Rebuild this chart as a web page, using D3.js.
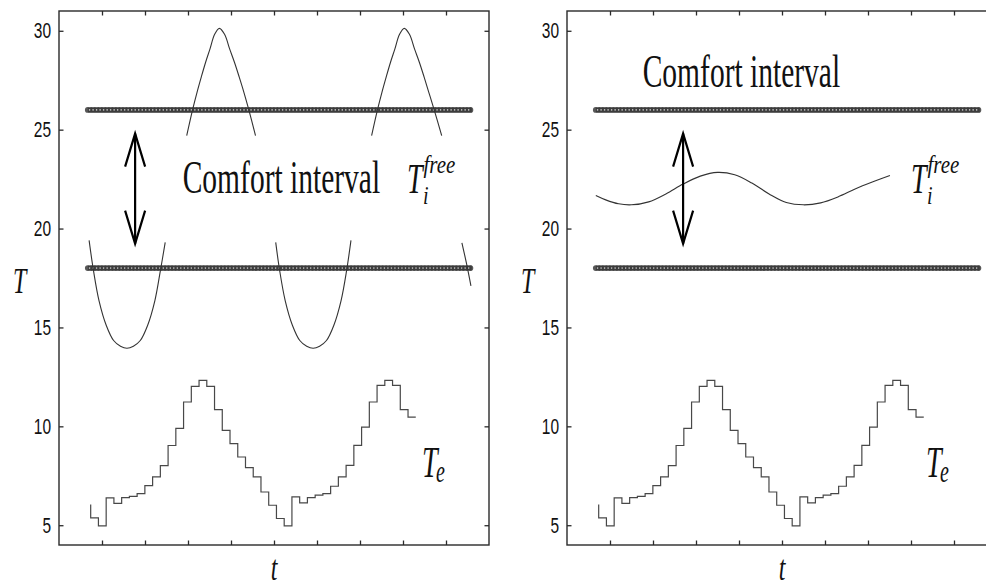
<!DOCTYPE html>
<html>
<head>
<meta charset="utf-8">
<style>
    body { margin: 0; background: #fff; }
    svg { display: block; }
    .frame { fill: none; stroke: #2a2a2a; stroke-width: 1.4; }
    .axis .domain { display: none; }
    .axis .tick line { stroke: #2a2a2a; stroke-width: 1.3; }
    .axis .tick text {
        font-family: "Liberation Sans", Arial, sans-serif;
        font-size: 15.5px;
        fill: #111;
    }
    .word { font-family: "Liberation Serif", "Times New Roman", serif; fill: #111; }
    .math { font-family: "Liberation Serif", "Times New Roman", serif; font-style: italic; fill: #111; }
    .curve { fill: none; stroke: #333; stroke-width: 1.1; }
    .stairs { fill: none; stroke: #484848; stroke-width: 1.2; }
</style>
</head>
<body>
<svg width="986" height="586"></svg>

<script src="https://d3js.org/d3.v7.min.js"></script>
<script>
    // ---- data ----
    let yTicks = [5, 10, 15, 20, 25, 30]
    let xTicks = [1, 2, 3, 4, 5, 6, 7, 8, 9]

    // comfort interval bounds and the t range they are drawn over
    let comfortBounds = [18, 26]
    let boundSpan = [0.67, 9.6]

    // free-running indoor temperature, left panel (drawn in pieces)
    let freeLeft = [
        [[0.70, 19.4], [0.80, 17.9], [0.93, 16.36], [1.10, 15.1], [1.27, 14.34], [1.43, 14.05], [1.58, 13.95],
         [1.73, 14.05], [1.89, 14.34], [2.06, 15.1], [2.23, 16.36], [2.36, 17.9], [2.47, 19.3]],
        [[2.97, 24.7], [3.11, 26.04], [3.21, 26.89], [3.31, 27.67], [3.41, 28.41], [3.51, 29.07], [3.62, 29.82],
         [3.73, 30.12], [3.85, 29.82], [3.97, 29.07], [4.08, 28.41], [4.19, 27.67], [4.30, 26.89],
         [4.41, 26.04], [4.57, 24.7]],
        [[5.04, 19.3], [5.13, 17.9], [5.26, 16.36], [5.43, 15.1], [5.60, 14.34], [5.76, 14.05], [5.91, 13.95],
         [6.06, 14.05], [6.22, 14.34], [6.39, 15.1], [6.56, 16.36], [6.69, 17.9], [6.79, 19.4]],
        [[7.27, 24.7], [7.41, 26.04], [7.51, 26.89], [7.61, 27.67], [7.71, 28.41], [7.81, 29.07], [7.92, 29.82],
         [8.03, 30.12], [8.15, 29.82], [8.27, 29.07], [8.38, 28.41], [8.49, 27.67], [8.60, 26.89],
         [8.72, 26.04], [8.90, 24.7]],
        [[9.37, 19.28], [9.48, 18.2], [9.58, 17.1]]
    ]

    // free-running indoor temperature, right panel
    let freeRight = [
        [[0.67, 21.67], [0.9, 21.45], [1.2, 21.25], [1.5, 21.2], [1.9, 21.35], [2.3, 21.75], [2.7, 22.25],
         [3.1, 22.65], [3.5, 22.84], [3.9, 22.72], [4.3, 22.3], [4.7, 21.75], [5.1, 21.32], [5.5, 21.2],
         [5.9, 21.3], [6.3, 21.6], [6.7, 22.0], [7.1, 22.35], [7.51, 22.68]]
    ]

    // outdoor temperature, hourly steps
    let teStart = 0.737
    let teStep = 0.18
    let teValues = [6.05, 5.37, 4.97, 6.38, 6.10, 6.40, 6.46, 6.60, 7.00, 7.44, 8.01, 9.03, 9.90, 11.23,
        12.02, 12.32, 12.02, 10.84, 9.80, 9.13, 8.45, 7.91, 7.44, 6.68, 6.01, 5.34, 4.97, 6.43, 6.13,
        6.40, 6.52, 6.60, 6.97, 7.44, 8.03, 9.04, 9.96, 11.23, 12.07, 12.32, 12.07, 10.84, 10.47]

    // double arrow marking the interval: [t, T top, T bottom]
    let arrowLeft = [1.77, 24.8, 19.24]
    let arrowRight = [2.70, 24.8, 19.24]

    // ---- layout ----
    let svg = d3.select("svg")
    let plotTop = 11, plotBottom = 545

    let y = d3.scaleLinear().domain([4, 31]).range([plotBottom, plotTop])

    let panels = [
        { left: 59, right: 489, free: freeLeft, arrow: arrowLeft,
          comfortAt: [182.7, 193.3], freeAt: [407, 193.3], teAt: [422, 476.7] },
        { left: 567, right: 997, free: freeRight, arrow: arrowRight,
          comfortAt: [642.7, 87], freeAt: [911, 193.3], teAt: [926, 476.7] }
    ]

    function stretched(g, x, y0, str, cls, size, sy, anchor) {
        return g.append("text")
            .attr("class", cls)
            .attr("transform", `translate(${x},${y0}) scale(1,${sy})`)
            .attr("text-anchor", anchor || "start")
            .style("font-size", size + "px")
            .text(str)
    }

    panels.forEach(p => {
        let x = d3.scaleLinear().domain([0, 10]).range([p.left, p.right])
        let g = svg.append("g")

        // frame
        g.append("rect")
            .attr("class", "frame")
            .attr("x", p.left).attr("y", plotTop)
            .attr("width", p.right - p.left).attr("height", plotBottom - plotTop)

        // ticks on all four sides, pointing in
        g.append("g").attr("class", "axis")
            .attr("transform", `translate(${p.left},0)`)
            .call(d3.axisLeft(y).tickValues(yTicks).tickSize(-4.5).tickPadding(8))
            .selectAll(".tick text")
            .attr("transform", "scale(1,1.44)")

        g.append("g").attr("class", "axis")
            .attr("transform", `translate(${p.right},0)`)
            .call(d3.axisRight(y).tickValues(yTicks).tickSize(-4.5).tickFormat(""))

        g.append("g").attr("class", "axis")
            .attr("transform", `translate(0,${plotTop})`)
            .call(d3.axisTop(x).tickValues(xTicks).tickSize(-4.5).tickFormat(""))

        g.append("g").attr("class", "axis")
            .attr("transform", `translate(0,${plotBottom})`)
            .call(d3.axisBottom(x).tickValues(xTicks).tickSize(-4.5).tickFormat(""))

        // comfort bounds: dense row of markers
        comfortBounds.forEach(b => {
            let path = `M${x(boundSpan[0])},${y(b)}H${x(boundSpan[1])}`
            g.append("path").attr("d", path)
                .attr("stroke", "#6e6e6e").attr("stroke-width", 5).attr("fill", "none")
            g.append("path").attr("d", path)
                .attr("stroke", "#303030").attr("stroke-width", 5.8)
                .attr("stroke-linecap", "round").attr("stroke-dasharray", "0.01 3.5")
                .attr("fill", "none").style("opacity", 0.8)
            g.append("path").attr("d", path)
                .attr("stroke", "#c4c4c4").attr("stroke-width", 1.6)
                .attr("stroke-linecap", "round").attr("stroke-dasharray", "0.01 3.5")
                .attr("stroke-dashoffset", 1.75)
                .attr("fill", "none")
        })

        // free-running indoor temperature
        let curve = d3.line()
            .x(d => x(d[0]))
            .y(d => y(d[1]))
            .curve(d3.curveCatmullRom.alpha(0.5))
        p.free.forEach(seg => {
            g.append("path").attr("class", "curve").attr("d", curve(seg))
        })

        // outdoor temperature stairs
        let stairs = d3.line()
            .x((d, i) => x(teStart + i * teStep))
            .y(d => y(d))
            .curve(d3.curveStepBefore)
        g.append("path").attr("class", "stairs").attr("d", stairs(teValues))

        // double arrow
        let ax = x(p.arrow[0]), a1 = y(p.arrow[1]), a2 = y(p.arrow[2])
        let arrow = g.append("g")
            .attr("stroke", "#000").attr("stroke-width", 2.2).attr("fill", "none")
        arrow.append("line").attr("x1", ax).attr("x2", ax).attr("y1", a1).attr("y2", a2)
        arrow.append("path").attr("d", `M${ax - 10},${a1 + 33}L${ax},${a1}L${ax + 10},${a1 + 33}`)
        arrow.append("path").attr("d", `M${ax - 10},${a2 - 33}L${ax},${a2}L${ax + 10},${a2 - 33}`)

        // labels
        stretched(g, p.comfortAt[0], p.comfortAt[1], "Comfort interval", "word", 29.5, 1.55)

        stretched(g, p.freeAt[0], p.freeAt[1], "T", "math", 28, 1.5)
        stretched(g, p.freeAt[0] + 16.5, p.freeAt[1] - 20, "free", "math", 21, 1.2)
        stretched(g, p.freeAt[0] + 16, p.freeAt[1] + 11, "i", "math", 20, 1.3)

        stretched(g, p.teAt[0], p.teAt[1], "T", "math", 28, 1.55)
        stretched(g, p.teAt[0] + 14, p.teAt[1] + 5, "e", "math", 20, 1.55)

        stretched(g, p.left - 46, 293, "T", "math", 24, 1.5)
        stretched(g, (p.left + p.right) / 2, 580, "t", "math", 24, 1.45, "middle")
    })
</script>
</body>
</html>
